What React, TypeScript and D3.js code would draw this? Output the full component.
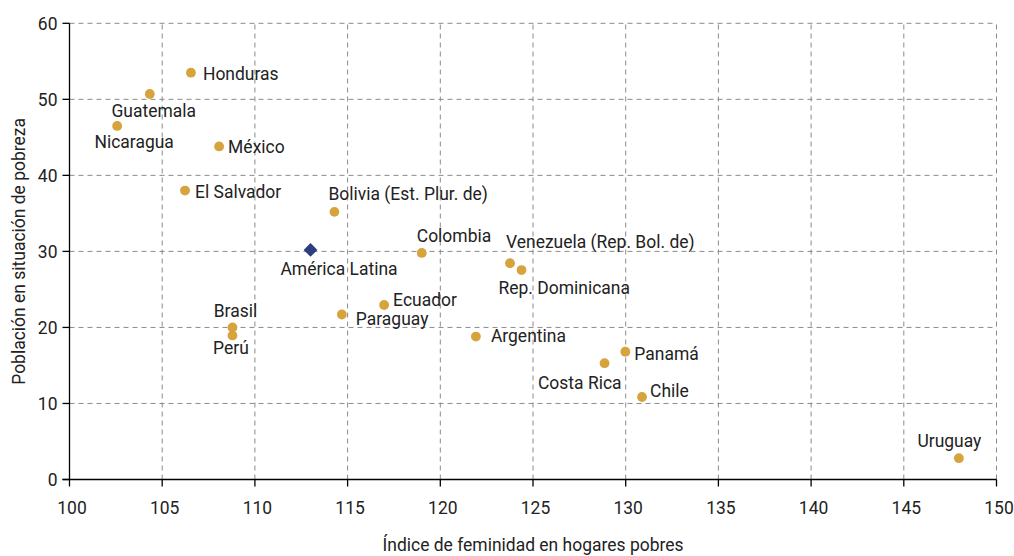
import React from "react";
import * as d3 from "d3";

const countries = ["Honduras","Guatemala","Nicaragua","México","El Salvador","Bolivia (Est. Plur. de)","Colombia","Venezuela (Rep. Bol. de)","Rep. Dominicana","Ecuador","Paraguay","Argentina","Panamá","Costa Rica","Chile","Uruguay","Brasil","Perú"];
const feminidad = [106.55,104.33,102.57,108.07,106.23,114.29,119.0,123.76,124.38,116.97,114.69,121.92,129.98,128.86,130.88,147.97,108.79,108.79];
const pobreza = [53.5,50.7,46.5,43.8,38.0,35.2,29.8,28.45,27.55,22.95,21.7,18.8,16.8,15.3,10.85,2.8,20.0,18.95];
const regionName = ["América Latina"];
const regionFem = [113.0];
const regionPob = [30.2];
const xTicks = [100,105,110,115,120,125,130,135,140,145,150];
const yTicks = [0,10,20,30,40,50,60];

// label placement (layout only): anchor, dx, dy relative to marker center
const labelPos: Record<string, [string, number, number]> = {
  "Honduras": ["start", 12, 7],
  "Guatemala": ["middle", 4, 23],
  "Nicaragua": ["middle", 17, 22],
  "México": ["start", 9, 7],
  "El Salvador": ["start", 10, 7.5],
  "Bolivia (Est. Plur. de)": ["start", -6, -11.5],
  "Colombia": ["start", -5, -11],
  "Venezuela (Rep. Bol. de)": ["start", -4, -15],
  "Rep. Dominicana": ["start", -23, 23.5],
  "Ecuador": ["start", 9, 0.5],
  "Paraguay": ["start", 14, 10],
  "Argentina": ["start", 15, 5],
  "Panamá": ["start", 9, 8.5],
  "Costa Rica": ["end", 17, 26],
  "Chile": ["start", 8, 0],
  "Uruguay": ["middle", -9.5, -11.5],
  "Brasil": ["middle", 3, -10.5],
  "Perú": ["middle", -1.5, 19],
  "América Latina": ["middle", 28.5, 25],
};

const W = 1014, H = 556;
const FONT = "Roboto, sans-serif";
const FS = 19;
const SX = 0.92;
const GOLD = "#D6A33C";
const NAVY = "#2E3D7E";
const GRID = "#8a8a8a";
const INK = "#222";

function Label({ x, y, anchor = "start", rotate = 0, children }: { x: number; y: number; anchor?: string; rotate?: number; children: React.ReactNode }) {
  return (
    <text transform={`translate(${x},${y}) rotate(${rotate}) scale(${SX},1)`} textAnchor={anchor as any} fill={INK}>
      {children}
    </text>
  );
}

export default function App() {
  const x = d3.scaleLinear().domain([100, 150]).range([69.5, 996.5]);
  const y = d3.scaleLinear().domain([0, 60]).range([479.5, 23.3]);
  const diamond = d3.symbol().type(d3.symbolDiamond2).size(120)();

  return (
    <svg width={W} height={H} style={{ position: "absolute", left: 0, top: 0, background: "#fff" }} fontFamily={FONT} fontSize={FS}>
      {/* grid */}
      {yTicks.filter(t => t > 0).map(t => (
        <line key={"gy" + t} x1={x(100)} x2={x(150)} y1={y(t)} y2={y(t)} stroke={GRID} strokeWidth={1} strokeDasharray="5,4" />
      ))}
      {xTicks.filter(t => t > 100).map(t => (
        <line key={"gx" + t} x1={x(t)} x2={x(t)} y1={y(0)} y2={y(60)} stroke={GRID} strokeWidth={1} strokeDasharray="5,4" />
      ))}
      {/* axes */}
      <line x1={x(100)} x2={x(100)} y1={y(0)} y2={y(60)} stroke="#000" strokeWidth={1.3} />
      <line x1={x(100) - 7} x2={x(150)} y1={y(0)} y2={y(0)} stroke="#000" strokeWidth={1.3} />
      {yTicks.map(t => (
        <g key={"ty" + t}>
          <line x1={x(100) - 7} x2={x(100)} y1={y(t)} y2={y(t)} stroke="#000" strokeWidth={1.3} />
          <Label x={x(100) - 12} y={y(t) + 6.5} anchor="end">{t}</Label>
        </g>
      ))}
      {xTicks.map(t => (
        <g key={"tx" + t}>
          <line x1={x(t)} x2={x(t)} y1={y(0)} y2={y(0) + 7} stroke="#000" strokeWidth={1.3} />
          <Label x={x(t) + 2.5} y={y(0) + 34} anchor="middle">{t}</Label>
        </g>
      ))}
      {/* axis titles */}
      <Label x={25} y={(y(0) + y(60)) / 2} anchor="middle" rotate={-90}>Población en situación de pobreza</Label>
      <Label x={(x(100) + x(150)) / 2} y={551} anchor="middle">Índice de feminidad en hogares pobres</Label>
      {/* points */}
      {countries.map((c, i) => (
        <circle key={"p" + c} cx={x(feminidad[i])} cy={y(pobreza[i])} r={4.9} fill={GOLD} />
      ))}
      {regionName.map((c, i) => (
        <path key={"r" + c} d={diamond as string} transform={`translate(${x(regionFem[i])},${y(regionPob[i])})`} fill={NAVY} />
      ))}
      {/* labels */}
      {countries.map((c, i) => {
        const [a, dx, dy] = labelPos[c];
        return <Label key={"l" + c} x={x(feminidad[i]) + dx} y={y(pobreza[i]) + dy} anchor={a}>{c}</Label>;
      })}
      {regionName.map((c, i) => {
        const [a, dx, dy] = labelPos[c];
        return <Label key={"lr" + c} x={x(regionFem[i]) + dx} y={y(regionPob[i]) + dy} anchor={a}>{c}</Label>;
      })}
    </svg>
  );
}
